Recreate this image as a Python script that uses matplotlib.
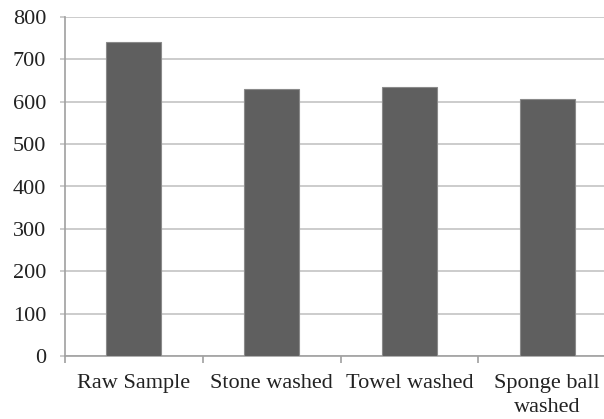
import matplotlib.pyplot as plt
import numpy as np

categories = ["Raw Sample", "Stone washed", "Towel washed", "Sponge ball\nwashed"]
values = [742, 631, 635, 606]

plt.rcParams['font.family'] = ['Liberation Serif', 'DejaVu Serif']

fig = plt.figure(figsize=(6.04, 4.19), dpi=100)
ax = fig.add_axes([65 / 604, 63 / 419, 551 / 604, 339 / 419])

x = np.arange(len(categories))
ax.bar(x, values, width=0.4, color='#5f5f5f', edgecolor='#8a8a8a', linewidth=0.8, zorder=3)

ax.set_xlim(-0.5, len(categories) - 0.5)
ax.set_ylim(0, 800)
ax.set_yticks(range(0, 801, 100))
ax.yaxis.grid(True, color='#c8c8c8', linewidth=1.3, zorder=0)
ax.set_axisbelow(True)

ax.set_xticks(x)
ax.set_xticklabels(categories, fontsize=16, linespacing=1.35, color='#222222')
ax.set_xticks(np.arange(-0.5, len(categories), 1.0), minor=True)
ax.tick_params(axis='x', which='major', length=0, pad=13)
ax.tick_params(axis='x', which='minor', length=5, color='#a0a0a0', width=1.2)
ax.tick_params(axis='y', length=3.6, color='#c8c8c8', width=1.3, labelsize=16,
               labelcolor='#222222', pad=10)

for s in ['top', 'right']:
    ax.spines[s].set_visible(False)
for s in ['left', 'bottom']:
    ax.spines[s].set_color('#a0a0a0')
    ax.spines[s].set_linewidth(1.2)

fig.savefig('out.png', dpi=100)
